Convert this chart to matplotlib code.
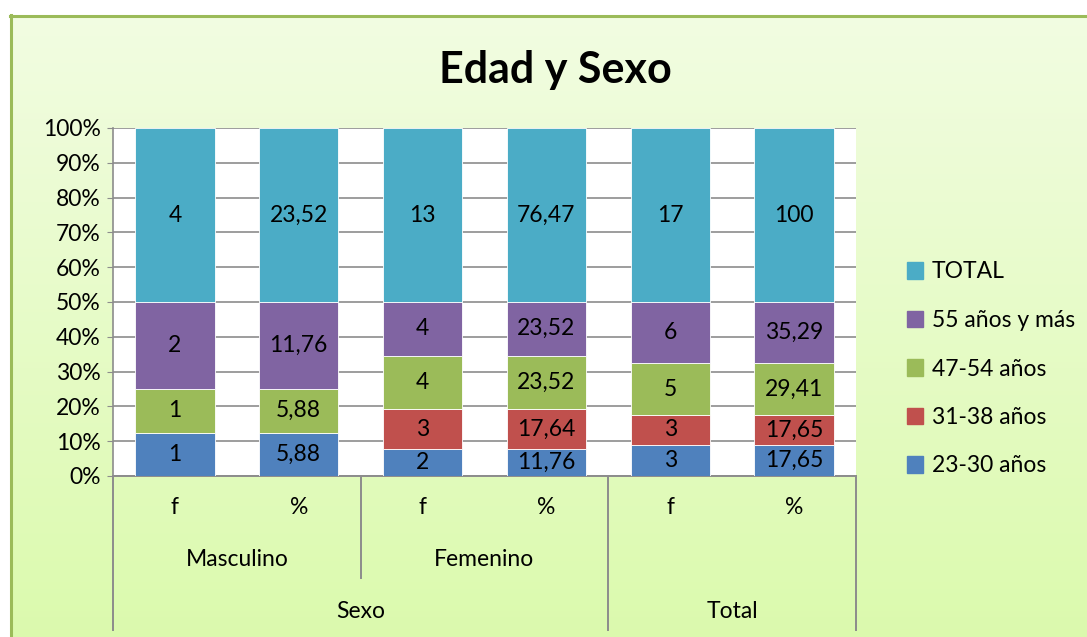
import matplotlib.pyplot as plt
import numpy as np
from matplotlib.patches import Patch
from matplotlib.transforms import blended_transform_factory

plt.rcParams['font.family'] = ['Lato', 'DejaVu Sans']

# Data
columns = ["f", "%", "f", "%", "f", "%"]
groups = ["Masculino", "Femenino"]
top_groups = ["Sexo", "Total"]
series_names = ["23-30 años", "31-38 años", "47-54 años", "55 años y más", "TOTAL"]
s_23_30 = [1, 5.88, 2, 11.76, 3, 17.65]
s_31_38 = [0, 0, 3, 17.64, 3, 17.65]
s_47_54 = [1, 5.88, 4, 23.52, 5, 29.41]
s_55 = [2, 11.76, 4, 23.52, 6, 35.29]
s_total = [4, 23.52, 13, 76.47, 17, 100]
colors = ["#4F81BD", "#C0504D", "#9BBB59", "#8064A2", "#4BACC6"]

series = np.array([s_23_30, s_31_38, s_47_54, s_55, s_total], dtype=float)
shares = series / series.sum(axis=0) * 100


def fmt(v):
  if float(v).is_integer():
    return str(int(v))
  return f"{v:.2f}".replace(".", ",")


FS = 16.5
W, H = 1087, 637
fig = plt.figure(figsize=(W / 100, H / 100), dpi=100)

# background gradient
bg = fig.add_axes([0, 0, 1, 1], zorder=-10)
grad = np.linspace(0, 1, 256).reshape(-1, 1)
top = np.array([0.95, 0.99, 0.89])
bot = np.array([0.86, 0.98, 0.68])
img = top + (bot - top) * grad[:, :, None]
bg.imshow(img, aspect="auto", extent=[0, W, H, 0])
bg.set_xlim(0, W)
bg.set_ylim(H, 0)
bg.fill_between([0, W], 0, 15, color="white", zorder=2)
bg.fill_between([0, 10], 0, H, color="white", zorder=2)
bg.plot([10, W], [15.5, 15.5], color="#9BBB59", lw=2.2, zorder=3)
bg.plot([10.5, 10.5], [15, H], color="#9BBB59", lw=2.2, zorder=3)
bg.axis("off")

x0, x1, y0, y1 = 113, 856, 128, 476
ax = fig.add_axes([x0 / W, 1 - y1 / H, (x1 - x0) / W, (y1 - y0) / H])
ax.set_facecolor("white")
x = np.arange(len(columns))
bottom = np.zeros(len(columns))
for name, vals, share, col in zip(series_names, series, shares, colors):
  ax.bar(x, share, 0.64, bottom=bottom, color=col, edgecolor="white", linewidth=0.6, label=name, zorder=3)
  for xi, v, s, b in zip(x, vals, share, bottom):
    if v > 0:
      ax.text(xi, b + s / 2, fmt(v), ha="center", va="center", fontsize=FS, zorder=4)
  bottom += share

ax.set_xlim(-0.5, 5.5)
ax.set_ylim(0, 100)
ax.set_yticks(np.arange(0, 101, 10))
ax.set_yticklabels([f"{v}%" for v in range(0, 101, 10)], fontsize=FS)
ax.yaxis.grid(True, color="#8C8C8C", lw=1.2, zorder=0)
ax.set_xticks([])
for sp in ["top", "right", "bottom"]:
  ax.spines[sp].set_visible(False)
ax.spines["left"].set_color("#8C8C8C")
ax.spines["left"].set_linewidth(1.2)
ax.tick_params(axis="y", length=4, color="#8C8C8C", pad=5)

# multi-level category axis
tr = blended_transform_factory(ax.transData, ax.transAxes)
def ya(py):
  return (y1 - py) / (y1 - y0)

line_kw = dict(color="#8C8C8C", lw=1.4, transform=tr, clip_on=False)
ax.plot([-0.5, 5.5], [0, 0], **line_kw)
ax.plot([-0.5, -0.5], [0, ya(630)], **line_kw)
ax.plot([1.5, 1.5], [0, ya(578)], **line_kw)
ax.plot([3.5, 3.5], [0, ya(630)], **line_kw)
ax.plot([5.5, 5.5], [0, ya(630)], **line_kw)

for xi, lab in zip(x, columns):
  ax.text(xi, ya(508), lab, ha="center", va="center", fontsize=FS, transform=tr)
for gi, lab in enumerate(groups):
  ax.text(gi * 2 + 0.5, ya(560), lab, ha="center", va="center", fontsize=FS, transform=tr)
ax.text(1.5, ya(612), top_groups[0], ha="center", va="center", fontsize=FS, transform=tr)
ax.text(4.5, ya(612), top_groups[1], ha="center", va="center", fontsize=FS, transform=tr)

fig.text(555 / W, 1 - 70 / H, "Edad y Sexo", ha="center", va="center", fontsize=31, fontweight="bold")

handles = [Patch(color=c, label=n) for n, c in zip(series_names, colors)][::-1]
fig.legend(handles=handles, loc="center left", bbox_to_anchor=(886 / W, 1 - 369 / H),
           frameon=False, fontsize=FS, handlelength=0.7, handleheight=0.7,
           handletextpad=0.4, labelspacing=1.2)

fig.savefig("out.png", dpi=100)
